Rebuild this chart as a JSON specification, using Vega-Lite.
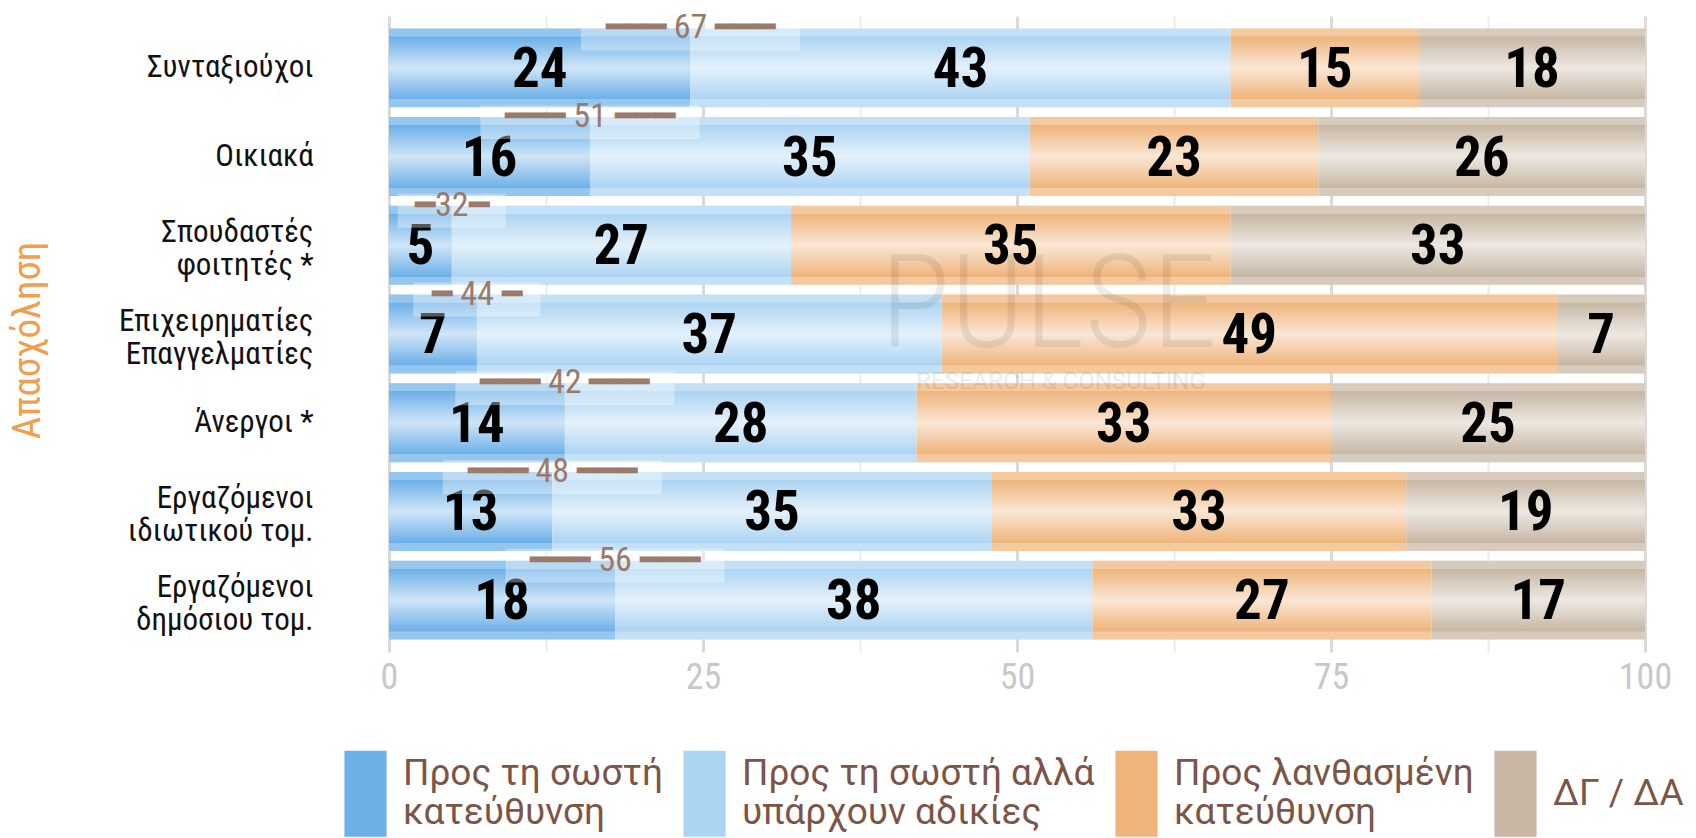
{
  "$schema": "https://vega.github.io/schema/vega-lite/v6.json",
  "width": 1256,
  "height": 636,
  "autosize": {"type": "none"},
  "padding": {"left": 389, "top": 16, "right": 51, "bottom": 186},
  "background": "white",
  "config": {"view": {"stroke": null}, "font": "Roboto"},
  "datasets": {
    "bars": [
      {"g": "Συνταξιούχοι", "cat": "Προς τη σωστή|κατεύθυνση", "k": 1, "v": 24},
      {"g": "Συνταξιούχοι", "cat": "Προς τη σωστή αλλά|υπάρχουν αδικίες", "k": 2, "v": 43},
      {"g": "Συνταξιούχοι", "cat": "Προς λανθασμένη|κατεύθυνση", "k": 3, "v": 15},
      {"g": "Συνταξιούχοι", "cat": "ΔΓ / ΔΑ", "k": 4, "v": 18},
      {"g": "Οικιακά", "cat": "Προς τη σωστή|κατεύθυνση", "k": 1, "v": 16},
      {"g": "Οικιακά", "cat": "Προς τη σωστή αλλά|υπάρχουν αδικίες", "k": 2, "v": 35},
      {"g": "Οικιακά", "cat": "Προς λανθασμένη|κατεύθυνση", "k": 3, "v": 23},
      {"g": "Οικιακά", "cat": "ΔΓ / ΔΑ", "k": 4, "v": 26},
      {"g": "Σπουδαστές|φοιτητές *", "cat": "Προς τη σωστή|κατεύθυνση", "k": 1, "v": 5},
      {"g": "Σπουδαστές|φοιτητές *", "cat": "Προς τη σωστή αλλά|υπάρχουν αδικίες", "k": 2, "v": 27},
      {"g": "Σπουδαστές|φοιτητές *", "cat": "Προς λανθασμένη|κατεύθυνση", "k": 3, "v": 35},
      {"g": "Σπουδαστές|φοιτητές *", "cat": "ΔΓ / ΔΑ", "k": 4, "v": 33},
      {"g": "Επιχειρηματίες|Επαγγελματίες", "cat": "Προς τη σωστή|κατεύθυνση", "k": 1, "v": 7},
      {"g": "Επιχειρηματίες|Επαγγελματίες", "cat": "Προς τη σωστή αλλά|υπάρχουν αδικίες", "k": 2, "v": 37},
      {"g": "Επιχειρηματίες|Επαγγελματίες", "cat": "Προς λανθασμένη|κατεύθυνση", "k": 3, "v": 49},
      {"g": "Επιχειρηματίες|Επαγγελματίες", "cat": "ΔΓ / ΔΑ", "k": 4, "v": 7},
      {"g": "Άνεργοι *", "cat": "Προς τη σωστή|κατεύθυνση", "k": 1, "v": 14},
      {"g": "Άνεργοι *", "cat": "Προς τη σωστή αλλά|υπάρχουν αδικίες", "k": 2, "v": 28},
      {"g": "Άνεργοι *", "cat": "Προς λανθασμένη|κατεύθυνση", "k": 3, "v": 33},
      {"g": "Άνεργοι *", "cat": "ΔΓ / ΔΑ", "k": 4, "v": 25},
      {"g": "Εργαζόμενοι|ιδιωτικού τομ.", "cat": "Προς τη σωστή|κατεύθυνση", "k": 1, "v": 13},
      {"g": "Εργαζόμενοι|ιδιωτικού τομ.", "cat": "Προς τη σωστή αλλά|υπάρχουν αδικίες", "k": 2, "v": 35},
      {"g": "Εργαζόμενοι|ιδιωτικού τομ.", "cat": "Προς λανθασμένη|κατεύθυνση", "k": 3, "v": 33},
      {"g": "Εργαζόμενοι|ιδιωτικού τομ.", "cat": "ΔΓ / ΔΑ", "k": 4, "v": 19},
      {"g": "Εργαζόμενοι|δημόσιου τομ.", "cat": "Προς τη σωστή|κατεύθυνση", "k": 1, "v": 18},
      {"g": "Εργαζόμενοι|δημόσιου τομ.", "cat": "Προς τη σωστή αλλά|υπάρχουν αδικίες", "k": 2, "v": 38},
      {"g": "Εργαζόμενοι|δημόσιου τομ.", "cat": "Προς λανθασμένη|κατεύθυνση", "k": 3, "v": 27},
      {"g": "Εργαζόμενοι|δημόσιου τομ.", "cat": "ΔΓ / ΔΑ", "k": 4, "v": 17}
    ],
    "totals": [
      {"g": "Συνταξιούχοι", "first": 24, "total": 67, "lab": "━━━ 67 ━━━"},
      {"g": "Οικιακά", "first": 16, "total": 51, "lab": "━━━ 51 ━━━"},
      {"g": "Σπουδαστές|φοιτητές *", "first": 5, "total": 32, "lab": "━32━"},
      {"g": "Επιχειρηματίες|Επαγγελματίες", "first": 7, "total": 44, "lab": "━ 44 ━"},
      {"g": "Άνεργοι *", "first": 14, "total": 42, "lab": "━━━ 42 ━━━"},
      {"g": "Εργαζόμενοι|ιδιωτικού τομ.", "first": 13, "total": 48, "lab": "━━━ 48 ━━━"},
      {"g": "Εργαζόμενοι|δημόσιου τομ.", "first": 18, "total": 56, "lab": "━━━ 56 ━━━"}
    ]
  },
  "layer": [
    {
      "data": {"name": "bars"},
      "mark": {"type": "bar", "strokeWidth": 0},
      "encoding": {
        "y": {
          "field": "g", "type": "nominal",
          "sort": ["Συνταξιούχοι", "Οικιακά", "Σπουδαστές|φοιτητές *", "Επιχειρηματίες|Επαγγελματίες", "Άνεργοι *", "Εργαζόμενοι|ιδιωτικού τομ.", "Εργαζόμενοι|δημόσιου τομ."],
          "scale": {"paddingInner": 0.11, "paddingOuter": 0.14},
          "title": "Απασχόληση",
          "axis": {
            "title": "Απασχόληση", "titleColor": "#ef9f4f", "titleFontSize": 39, "titleFontWeight": "normal",
            "titleFont": "Roboto Condensed, Liberation Sans Narrow, Roboto",
            "titleX": -362, "titleY": 324, "titleAngle": -90, "titleAlign": "center", "titleBaseline": "middle",
            "labelFontSize": 31, "labelFont": "Roboto Condensed, Liberation Sans Narrow, Roboto", "labelColor": "#111111",
            "labelPadding": 76, "ticks": false, "domain": false, "grid": false,
            "labelExpr": "split(datum.label, '|')", "labelLineHeight": 33, "labelLimit": 320,
            "labelOffset": {"condition": {"test": "indexof(datum.value, '|') >= 0", "value": -12}, "value": 0}
          }
        },
        "x": {
          "field": "v", "type": "quantitative", "stack": "zero",
          "scale": {"domain": [0, 100], "nice": false},
          "axis": {
            "title": null, "values": [0, 12.5, 25, 37.5, 50, 62.5, 75, 87.5, 100],
            "labelExpr": "datum.value % 25 == 0 ? datum.label : ''",
            "labelFontSize": 36, "labelColor": "#c8c8c8", "labelFont": "Roboto Condensed, Liberation Sans Narrow, Roboto",
            "labelPadding": 8, "labelFlush": false, "ticks": false, "domain": false,
            "gridColor": {"condition": {"test": "datum.value % 25 == 0", "value": "#dadada"}, "value": "#ececec"},
            "gridWidth": {"condition": {"test": "datum.value % 25 == 0", "value": 3}, "value": 2}
          }
        },
        "color": {
          "field": "cat", "type": "nominal",
          "scale": {
            "domain": ["Προς τη σωστή|κατεύθυνση", "Προς τη σωστή αλλά|υπάρχουν αδικίες", "Προς λανθασμένη|κατεύθυνση", "ΔΓ / ΔΑ"],
            "range": ["#6cb0e8", "#acd4f3", "#efb47b", "#c7b7a4"]
          },
          "legend": {
            "title": null, "orient": "none", "legendX": -45, "legendY": 756, "direction": "horizontal", "columns": 4,
            "symbolType": "M-0.98,-2H0.98V2H-0.98Z", "symbolSize": 1849, "symbolStrokeWidth": 0,
            "labelFontSize": 37, "labelColor": "#7a5548", "labelFont": "Roboto", "labelOffset": 16, "labelLimit": 400,
            "columnPadding": 20, "labelExpr": "split(datum.label, '|')", "labelLineHeight": 45,
            "symbolOpacity": 1,
            "encode": {
              "labels": {
                "update": {"dy": {"signal": "indexof(datum.value, '|') >= 0 ? -20 : 0"}}
              }
            }
          }
        },
        "order": {"field": "k", "type": "quantitative"}
      }
    },
    {
      "data": {"name": "bars"},
      "mark": {"type": "bar", "strokeWidth": 0, "fill": {"gradient": "linear", "x1": 0, "y1": 0, "x2": 0, "y2": 1, "stops": [
        {"offset": 0, "color": "rgba(255,255,255,0.28)"}, {"offset": 0.1, "color": "rgba(255,255,255,0.28)"}, {"offset": 0.105, "color": "rgba(255,255,255,0)"},
        {"offset": 0.5, "color": "rgba(255,255,255,0.68)"}, {"offset": 0.895, "color": "rgba(255,255,255,0)"}, {"offset": 0.9, "color": "rgba(255,255,255,0.28)"}, {"offset": 1, "color": "rgba(255,255,255,0.28)"}]}},
      "encoding": {
        "y": {"field": "g", "type": "nominal", "sort": ["Συνταξιούχοι", "Οικιακά", "Σπουδαστές|φοιτητές *", "Επιχειρηματίες|Επαγγελματίες", "Άνεργοι *", "Εργαζόμενοι|ιδιωτικού τομ.", "Εργαζόμενοι|δημόσιου τομ."], "title": "Απασχόληση"},
        "x": {"field": "v", "type": "quantitative", "stack": "zero"},
        "detail": {"field": "cat", "type": "nominal"},
        "order": {"field": "k", "type": "quantitative"}
      }
    },
    {
      "data": {"name": "bars"},
      "mark": {"type": "text", "font": "Roboto Condensed, Liberation Sans Narrow, Roboto", "fontWeight": "bold", "fontSize": 55, "color": "#000000", "baseline": "middle", "dy": 2},
      "encoding": {
        "y": {"field": "g", "type": "nominal", "sort": ["Συνταξιούχοι", "Οικιακά", "Σπουδαστές|φοιτητές *", "Επιχειρηματίες|Επαγγελματίες", "Άνεργοι *", "Εργαζόμενοι|ιδιωτικού τομ.", "Εργαζόμενοι|δημόσιου τομ."], "title": "Απασχόληση"},
        "x": {"field": "v", "type": "quantitative", "stack": "zero", "bandPosition": 0.5},
        "detail": {"field": "cat", "type": "nominal"},
        "order": {"field": "k", "type": "quantitative"},
        "text": {"field": "v", "type": "quantitative"}
      }
    },
    {
      "data": {"name": "totals"},
      "mark": {"type": "point", "filled": true, "color": "#ffffff", "opacity": 0.35, "strokeWidth": 0, "yOffset": 5},
      "encoding": {
        "y": {"field": "g", "type": "nominal", "sort": ["Συνταξιούχοι", "Οικιακά", "Σπουδαστές|φοιτητές *", "Επιχειρηματίες|Επαγγελματίες", "Άνεργοι *", "Εργαζόμενοι|ιδιωτικού τομ.", "Εργαζόμενοι|δημόσιου τομ."], "bandPosition": 0, "title": "Απασχόληση"},
        "x": {"field": "first", "type": "quantitative"},
        "shape": {"condition": [{"test": "datum.total == 32", "value": "M-1,-0.315L1,-0.315L1,0.315L-1,0.315Z"}, {"test": "datum.total == 44", "value": "M-1,-0.268L1,-0.268L1,0.268L-1,0.268Z"}], "value": "M-1,-0.155L1,-0.155L1,0.155L-1,0.155Z"},
        "size": {"condition": [{"test": "datum.total == 32", "value": 11664}, {"test": "datum.total == 44", "value": 16129}], "value": 47961}
      }
    },
    {
      "data": {"name": "totals"},
      "mark": {"type": "text", "font": "Roboto Condensed, Liberation Sans Narrow, Roboto", "fontSize": 34, "color": "#9a7a6a", "baseline": "middle"},
      "encoding": {
        "y": {"field": "g", "type": "nominal", "sort": ["Συνταξιούχοι", "Οικιακά", "Σπουδαστές|φοιτητές *", "Επιχειρηματίες|Επαγγελματίες", "Άνεργοι *", "Εργαζόμενοι|ιδιωτικού τομ.", "Εργαζόμενοι|δημόσιου τομ."], "bandPosition": 0, "title": "Απασχόληση"},
        "x": {"field": "first", "type": "quantitative"},
        "text": {"field": "lab", "type": "nominal"}
      }
    },
    {
      "data": {"values": [{"w": "PULSE"}]},
      "mark": {"type": "text", "font": "Roboto Condensed, Liberation Sans Narrow, Roboto", "fontWeight": 300, "fontSize": 130, "color": "#000000", "opacity": 0.07, "baseline": "middle", "yOffset": -26},
      "encoding": {
        "x": {"datum": 52.5, "type": "quantitative"},
        "y": {"datum": "Επιχειρηματίες|Επαγγελματίες", "type": "nominal"},
        "text": {"field": "w", "type": "nominal"}
      }
    },
    {
      "data": {"values": [{"w": "RESEARCH & CONSULTING"}]},
      "mark": {"type": "text", "font": "Roboto", "fontSize": 24, "color": "#000000", "opacity": 0.07, "baseline": "middle", "yOffset": 48},
      "encoding": {
        "x": {"datum": 53.5, "type": "quantitative"},
        "y": {"datum": "Επιχειρηματίες|Επαγγελματίες", "type": "nominal"},
        "text": {"field": "w", "type": "nominal"}
      }
    }
  ]
}
